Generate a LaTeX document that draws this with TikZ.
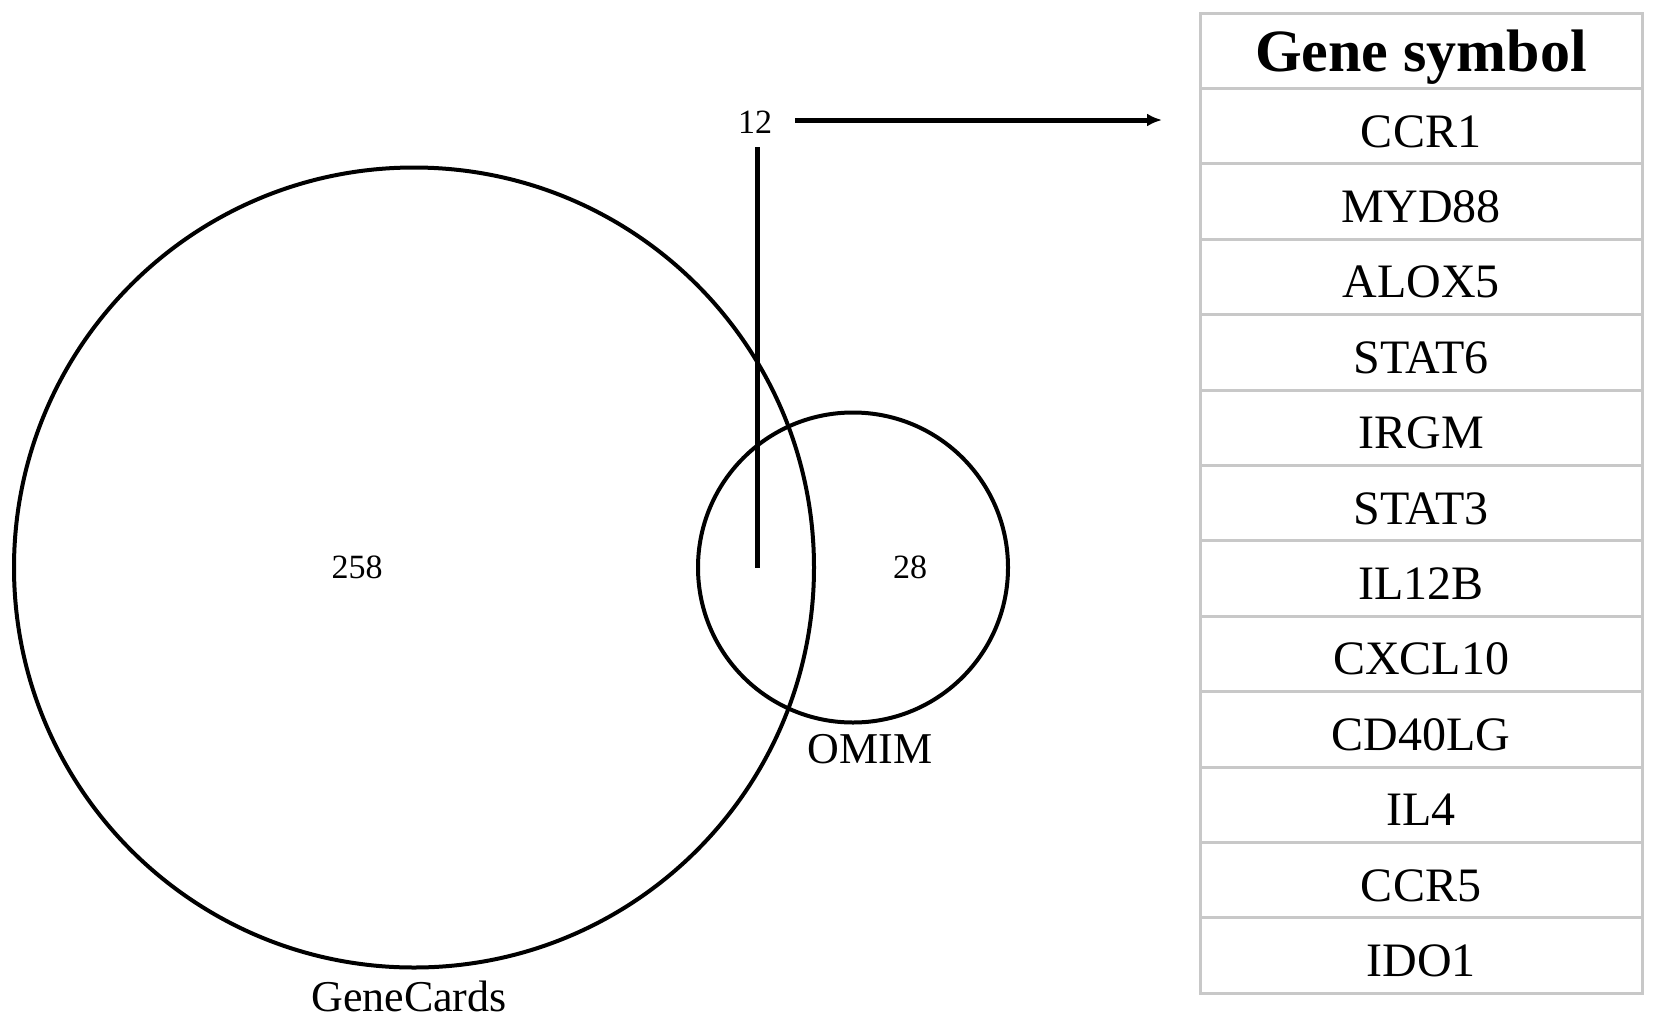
\documentclass[tikz,border=0pt]{standalone}
\usepackage{fontspec}
\setmainfont{Liberation Serif}
\usetikzlibrary{arrows.meta}
\definecolor{cellgray}{RGB}{200,200,200}
\begin{document}
\begin{tikzpicture}[x=0.5pt,y=-0.5pt,
  venn/.style={circle, draw, line width=2pt, minimum size=#1, inner sep=0pt},
  num/.style={font=\fontsize{17}{20}\selectfont, inner sep=0pt, anchor=base},
  setlabel/.style={font=\fontsize{22}{26}\selectfont, inner sep=0pt, anchor=base},
  cell/.style={draw=cellgray, line width=1.5pt, minimum width=221pt, minimum height=37.7pt,
    inner sep=0pt, text height=21pt, text depth=0pt, font=\fontsize{24}{28}\selectfont},
  headcell/.style={cell, font=\fontsize{30}{34}\selectfont\bfseries},
  link/.style={line width=2.5pt},
  linkarrow/.style={line width=2.5pt, -{Latex[length=7.5pt,width=6.5pt]}}
]
\useasboundingbox (0,0) rectangle (1654,1023);
% Venn circles
\node[venn=400pt] (gc) at (414,567.5) {};
\node[venn=155pt] (om) at (853,567.5) {};
% numbers and labels
\node[num] (n258) at (357,578) {258};
\node[num] (n28) at (910,578) {28};
\node[num] (n12) at (755,133) {12};
\node[setlabel] (lom) at (870,763) {OMIM};
\node[setlabel] (lgc) at (409,1011) {GeneCards};
% pointer from intersection
\coordinate (vtop) at (757,147);
\coordinate (vbot) at (757,568);
\draw[link] (vtop) -- (vbot);
\coordinate (astart) at (795,120);
\coordinate (aend) at (1162,120);
\draw[linkarrow] (astart) -- (aend);
% table
\node[headcell] (head) at (1421,50.7) {Gene symbol};
\foreach \g [count=\i from 1] in {CCR1,MYD88,ALOX5,STAT6,IRGM,STAT3,IL12B,CXCL10,CD40LG,IL4,CCR5,IDO1}
  \node[cell] (row\i) at (1421,{13+75.4*(\i+0.5)}) {\g};
\end{tikzpicture}
\end{document}
